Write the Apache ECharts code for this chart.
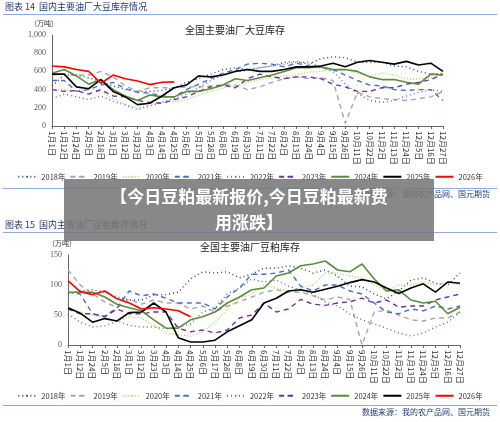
<!DOCTYPE html>
<html><head><meta charset="utf-8">
<script src="https://cdn.jsdelivr.net/npm/echarts@6/dist/echarts.min.js"></script>
<style>html,body{margin:0;padding:0;background:#fff}#c{width:500px;height:422px}</style>
</head><body><div id="c"></div>
<script>
const dates = ['1月1日','1月12日','1月24日','2月5日','2月18日','3月1日','3月12日','3月23日','4月3日','4月14日','4月25日','5月6日','5月17日','5月28日','6月8日','6月19日','6月30日','7月11日','7月22日','8月2日','8月13日','8月24日','9月4日','9月15日','9月26日','10月11日','10月22日','11月2日','11月13日','11月24日','12月5日','12月16日','12月27日'];
const years = ['2018年','2019年','2020年','2021年','2022年','2023年','2024年','2025年','2026年'];
// soybean inventory (万吨)
const soy2018 = [440,560,560,530,490,440,400,380,380,390,420,480,520,570,620,640,620,640,660,700,710,680,740,760,750,700,700,700,660,650,600,570,580];
const soy2019 = [560,570,560,560,600,540,440,380,420,420,420,430,430,440,450,450,400,430,480,520,540,520,530,500,30,370,320,300,290,280,300,320,380];
const soy2020 = [400,400,380,420,380,300,240,200,230,260,270,290,340,380,420,440,480,510,530,550,560,590,600,620,620,580,550,580,560,520,520,530,560];
const soy2021 = [500,500,380,400,450,480,410,370,360,330,320,400,460,520,580,620,680,690,680,650,690,660,640,620,560,500,450,440,400,390,400,400,280];
const soy2022 = [300,350,320,290,330,270,230,180,220,260,300,350,420,500,560,600,610,640,660,680,700,700,650,600,460,360,280,260,280,330,370,400,380];
const soy2023 = [400,380,390,350,400,330,320,280,260,250,290,320,380,430,450,420,520,570,540,520,540,540,520,460,430,380,380,420,420,460,480,510,570];
const soy2024 = [580,620,550,460,510,400,330,280,340,320,320,380,380,410,450,520,500,530,560,600,640,640,650,620,620,600,540,510,510,480,460,570,560];
const soy2025 = [570,570,430,410,510,380,320,235,250,330,420,450,550,540,560,600,620,600,600,620,650,650,660,690,650,700,720,700,680,710,670,690,600];
const soy2026 = [660,650,620,600,470,560,520,495,455,480,485];
// soybean meal inventory (万吨)
const meal2018 = [85,90,92,88,80,75,75,83,84,88,110,122,120,122,112,118,128,128,132,128,120,125,115,98,97,85,77,90,108,112,103,100,120];
const meal2019 = [125,100,85,72,62,76,68,75,70,70,60,65,55,65,72,80,88,92,88,88,82,75,80,76,0,55,58,50,42,40,45,45,55];
const meal2020 = [62,55,50,45,40,47,45,32,20,17,15,22,38,60,78,85,100,95,90,95,100,120,120,115,112,100,90,100,100,105,100,105,100];
const meal2021 = [88,85,52,48,62,90,82,85,78,70,70,70,60,80,95,118,118,120,125,98,90,100,100,90,85,70,55,52,60,57,65,60,65];
const meal2022 = [52,38,30,32,40,33,30,30,27,30,35,55,62,85,95,110,105,108,98,92,85,72,65,52,42,35,28,20,15,20,30,38,55];
const meal2023 = [60,52,52,47,60,52,52,55,55,28,22,25,20,25,45,50,70,55,60,76,68,66,70,72,78,70,75,63,65,65,75,80,85];
const meal2024 = [88,88,88,80,68,62,57,42,28,28,42,47,55,70,80,92,95,115,120,132,135,140,125,122,135,110,90,92,75,70,73,52,63];
const meal2025 = [62,53,38,44,40,54,55,70,55,12,5,5,8,22,32,42,70,78,90,92,88,93,98,104,109,105,95,86,95,102,88,105,103];
const meal2026 = [107,89,84,90,77,70,60,62,60,57,47];

const styles = [
  {c:'#2f3e6e',t:[1,3]},{c:'#a6a6a6',t:[5,4]},{c:'#b3cf6a',t:[1,2]},{c:'#4472c4',t:[5,4]},
  {c:'#4472c4',t:[1,3]},{c:'#7030a0',t:[5,4]},{c:'#5b8c3a',t:'solid'},{c:'#000000',t:'solid'},{c:'#ff0000',t:'solid'}];
const soy = [soy2018,soy2019,soy2020,soy2021,soy2022,soy2023,soy2024,soy2025,soy2026];
const meal = [meal2018,meal2019,meal2020,meal2021,meal2022,meal2023,meal2024,meal2025,meal2026];
const series = [];
[soy, meal].forEach((arr, g) => arr.forEach((d, i) => series.push({
  name: years[i], type:'line', xAxisIndex:g, yAxisIndex:g, data:d, showSymbol:false, symbol:'none',
  z: i, lineStyle:{color:styles[i].c, width: i>=6?1.6:1.4, type:styles[i].t}, itemStyle:{color:styles[i].c}
})));
const xAx = (g) => ({type:'category', gridIndex:g, data:dates, boundaryGap:false,
  axisLine:{lineStyle:{color:'#666'}}, axisTick:{show:true, length:3, interval:0, lineStyle:{color:'#666'}},
  axisLabel:{interval:0, rotate:-90, fontSize:8, color:'#333', margin:5, fontFamily:'Noto Sans CJK SC'}});
const yAx = (g, max, iv, fmt) => ({type:'value', gridIndex:g, min:0, max:max, interval:iv,
  axisLine:{show:true, lineStyle:{color:'#666'}}, axisTick:{show:false}, splitLine:{show:false},
  axisLabel:{fontSize:8, color:'#555', margin:6, fontFamily:'Liberation Serif', formatter:fmt}});
const leg = (top) => ({top:top, left:'center', itemWidth:18, itemHeight:2, itemGap:4, data:years,
  textStyle:{fontSize:7.5, color:'#333', fontFamily:'Noto Sans CJK SC'}});
const hdr = (y, t) => ({type:'text', left:5, top:y, style:{text:t, fontSize:9, fill:'#1f3b73', fontFamily:'Noto Sans CJK SC'}});
const hline = (y) => ({type:'rect', shape:{x:3, y:y, width:494, height:1}, style:{fill:'#8faadc'}});
const chart = echarts.init(document.getElementById('c'));
chart.setOption({
  animation:false,
  grid:[{left:52, right:57, top:35, height:91}, {left:68, right:40, top:255, height:90}],
  xAxis:[xAx(0), xAx(1)],
  yAxis:[yAx(0,1000,200,v=>v===1000?'1,000':v), yAx(1,150,50)],
  legend:[leg(168), leg(387)],
  series:series,
  graphic:[
    hdr(2,'图表 14  国内主要油厂大豆库存情况'), hline(14),
    {type:'text', left:30, top:20, style:{text:'（万吨）', fontSize:7, fill:'#333', fontFamily:'Noto Sans CJK SC'}},
    {type:'text', left:185, top:25, style:{text:'全国主要油厂大豆库存', fontSize:10, fill:'#222', fontFamily:'Noto Sans CJK SC'}},
    hline(188),
    {type:'text', right:10, top:190, style:{text:'数据来源：我的农产品网、国元期货', fontSize:8, fill:'#1f3b73', fontFamily:'Noto Sans CJK SC'}},
    hdr(220,'图表 15  国内主要油厂豆粕库存情况'), hline(232),
    {type:'text', left:48, top:240, style:{text:'（万吨）', fontSize:7, fill:'#333', fontFamily:'Noto Sans CJK SC'}},
    {type:'text', left:200, top:242, style:{text:'全国主要油厂豆粕库存', fontSize:10, fill:'#222', fontFamily:'Noto Sans CJK SC'}},
    hline(405),
    {type:'text', right:10, top:408, style:{text:'数据来源：我的农产品网、国元期货', fontSize:8, fill:'#1f3b73', fontFamily:'Noto Sans CJK SC'}},
    {type:'rect', z:100, shape:{x:64, y:179, width:370, height:62}, style:{fill:'rgba(120,120,120,0.88)'}},
    {type:'text', z:101, x:249, y:184, style:{text:'【今日豆粕最新报价,今日豆粕最新费\n用涨跌】', align:'center', fontSize:17, lineHeight:26, fontWeight:'bold', fill:'#fff', fontFamily:'Noto Sans CJK SC'}}
  ]
});
</script></body></html>
